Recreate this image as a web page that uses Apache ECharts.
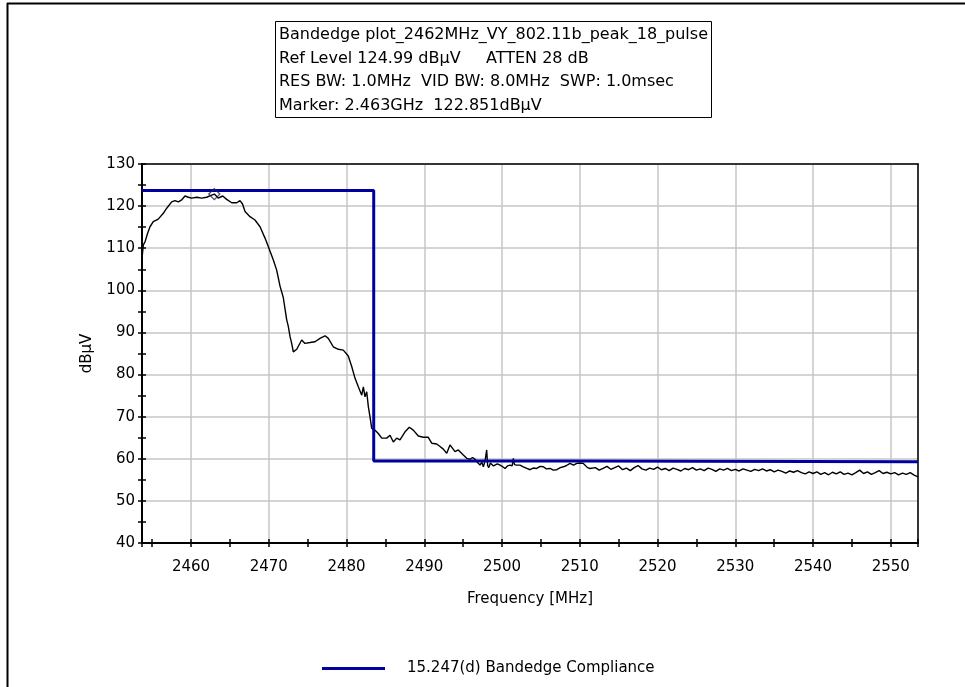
<!DOCTYPE html>
<html>
<head>
<meta charset="utf-8">
<title>Bandedge plot</title>
<script src="https://cdn.jsdelivr.net/npm/echarts@6/dist/echarts.min.js"></script>
<style>
  html, body { margin: 0; padding: 0; background: #fff; }
  #chart { width: 965px; height: 687px; }
</style>
</head>
<body>
<div id="chart"></div>
<script>
// Measured trace: frequency (MHz) and level (dBµV)
const traceFreq = [
  2453.70, 2453.87, 2454.09, 2454.41, 2454.73, 2455.15, 2455.79, 2456.44, 2456.88, 2457.52,
  2457.94, 2458.37, 2458.81, 2459.23, 2459.66, 2460.09, 2460.74, 2461.38, 2462.02, 2462.66,
  2463.00, 2463.51, 2464.08, 2464.59, 2465.24, 2465.88, 2466.30, 2466.63, 2466.95, 2467.59,
  2468.23, 2468.88, 2469.52, 2469.94, 2470.59, 2471.02, 2471.45, 2471.87, 2472.31, 2472.51,
  2472.74, 2472.95, 2473.16, 2473.60, 2474.24, 2474.66, 2475.31, 2475.95, 2476.59, 2477.24,
  2477.66, 2478.30, 2478.95, 2479.59, 2480.23, 2480.67, 2481.10, 2481.52, 2481.96, 2482.17,
  2482.38, 2482.60, 2482.81, 2483.02, 2483.24, 2483.67, 2484.09, 2484.53, 2485.17, 2485.60,
  2486.02, 2486.46, 2486.88, 2487.53, 2488.08, 2488.59, 2489.24, 2489.88, 2490.52, 2490.96,
  2491.60, 2492.03, 2492.45, 2492.89, 2493.31, 2493.53, 2493.96, 2494.38, 2495.02, 2495.46,
  2495.89, 2496.20, 2496.53, 2496.92, 2497.17, 2497.40, 2497.60, 2497.82, 2498.03, 2498.15,
  2498.30, 2498.50, 2498.68, 2498.90, 2499.10, 2499.40, 2499.75, 2500.10, 2500.39, 2500.70,
  2501.03, 2501.30, 2501.46, 2501.60, 2501.89, 2502.32, 2502.74, 2503.20, 2503.60, 2504.00,
  2504.46, 2504.90, 2505.32, 2505.70, 2506.18, 2506.60, 2507.04, 2507.50, 2507.89, 2508.30,
  2508.75, 2509.20, 2509.61, 2510.03, 2510.46, 2510.68, 2511.00, 2511.32,
  2512.0, 2512.5, 2513.0, 2513.5, 2514.0, 2514.5, 2515.0, 2515.5, 2516.0, 2516.5,
  2517.0, 2517.5, 2518.0, 2518.5, 2519.0, 2519.5, 2520.0, 2520.5, 2521.0, 2521.5,
  2522.0, 2522.5, 2523.0, 2523.5, 2524.0, 2524.5, 2525.0, 2525.5, 2526.0, 2526.5,
  2527.0, 2527.5, 2528.0, 2528.5, 2529.0, 2529.5, 2530.0, 2530.5, 2531.0, 2531.5,
  2532.0, 2532.5, 2533.0, 2533.5, 2534.0, 2534.5, 2535.0, 2535.5, 2536.0, 2536.5,
  2537.0, 2537.5, 2538.0, 2538.5, 2539.0, 2539.5, 2540.0, 2540.5, 2541.0, 2541.5,
  2542.0, 2542.5, 2543.0, 2543.5, 2544.0, 2544.5, 2545.0, 2545.5, 2546.0, 2546.5,
  2547.0, 2547.5, 2548.0, 2548.5, 2549.0, 2549.5, 2550.0, 2550.5, 2551.0, 2551.5,
  2552.0, 2552.5, 2553.0, 2553.5
];
const traceLevel = [
  107.5, 110.8, 111.5, 113.5, 115.1, 116.3, 116.9, 118.3, 119.5, 121.0,
  121.3, 121.0, 121.5, 122.4, 122.1, 121.9, 122.1, 121.9, 122.1, 122.6,
  122.85, 121.9, 122.4, 121.6, 120.8, 120.8, 121.3, 120.5, 118.7, 117.5,
  116.7, 115.1, 112.4, 110.4, 107.2, 104.8, 101.0, 98.3, 93.0, 91.5,
  89.0, 87.4, 85.4, 86.0, 88.2, 87.4, 87.6, 87.8, 88.6, 89.2,
  88.6, 86.6, 86.0, 85.8, 84.4, 81.9, 79.1, 77.1, 75.1, 77.1,
  74.7, 75.9, 72.4, 70.0, 67.2, 66.8, 66.0, 64.9, 64.9, 65.6,
  64.0, 64.9, 64.5, 66.4, 67.5, 66.8, 65.4, 65.1, 65.1, 63.7,
  63.5, 62.9, 62.3, 61.3, 63.3, 63.7, 61.7, 62.1, 60.9, 60.1,
  59.9, 60.3, 59.9, 59.0, 58.5, 59.2, 58.1, 59.5, 62.1, 58.4,
  57.9, 59.0, 59.3, 58.3, 58.1, 58.8, 58.5, 58.1, 57.7, 58.3,
  58.5, 58.3, 60.1, 58.6, 58.5, 58.5, 58.1, 57.7, 57.4, 57.8,
  57.7, 58.2, 58.1, 57.6, 57.7, 57.3, 57.4, 57.9, 58.1, 58.4,
  58.9, 58.5, 58.9, 59.0, 58.9, 58.5, 57.9, 57.7,
  57.9, 57.3, 57.7, 58.2, 57.5, 57.9, 58.3, 57.4, 57.8, 57.2,
  57.9, 58.4, 57.6, 57.3, 57.8, 57.5, 58.0, 57.4, 57.7, 57.2,
  57.8, 57.5, 57.1, 57.7, 57.4, 57.9, 57.3, 57.6, 57.2, 57.8,
  57.5, 57.0, 57.6, 57.3, 57.7, 57.2, 57.5, 57.1, 57.6, 57.3,
  57.0, 57.5, 57.2, 57.6, 57.1, 57.4, 56.9, 57.3, 57.0, 56.6,
  57.1, 56.8, 57.2, 56.7, 56.4, 56.9, 56.5, 56.9, 56.3, 56.7,
  56.2, 56.8, 56.4, 56.9, 56.3, 56.6, 56.2, 56.7, 57.3, 56.5,
  56.9, 56.3, 56.7, 57.2, 56.5, 56.8, 56.4, 56.7, 56.2, 56.6,
  56.3, 56.7, 56.1, 55.7
];

// 15.247(d) limit line (step shape)
const limitFreq  = [2453.7, 2483.5, 2483.5, 2510.6, 2510.6, 2553.5];
const limitLevel = [123.7, 123.7, 59.5, 59.5, 59.3, 59.3];

// Marker reading
const markerFreq = [2463.0];
const markerLevel = [122.851];

// Axis ranges and ticks
const freqMin = 2453.7, freqMax = 2553.5;
const levelMin = 40, levelMax = 130;
const majorStepFreq = 10, minorStepFreq = 5;
const majorStepLevel = 10, minorStepLevel = 5;

const infoLines = [
  'Bandedge plot_2462MHz_VY_802.11b_peak_18_pulse',
  'Ref Level 124.99 dBµV     ATTEN 28 dB',
  'RES BW: 1.0MHz  VID BW: 8.0MHz  SWP: 1.0msec',
  'Marker: 2.463GHz  122.851dBµV'
];
const limitName = '15.247(d) Bandedge Compliance';

const FONT = 'DejaVu Sans';
const zip = (a, b) => a.map((v, i) => [v, b[i]]);

const chart = echarts.init(document.getElementById('chart'), null, { renderer: 'canvas' });

const tickAxisX = (offset) => ({
  type: 'value', gridIndex: 0, min: freqMin, max: freqMax,
  minInterval: minorStepFreq, maxInterval: minorStepFreq,
  position: 'bottom', offset: offset,
  axisLine: { show: false }, axisLabel: { show: false }, splitLine: { show: false },
  axisTick: { show: true, length: 8, lineStyle: { color: '#000', width: 1.5 } }
});
const tickAxisY = (offset) => ({
  type: 'value', gridIndex: 0, min: levelMin, max: levelMax, interval: minorStepLevel,
  position: 'left', offset: offset,
  axisLine: { show: false }, axisLabel: { show: false }, splitLine: { show: false },
  axisTick: { show: true, length: 8, lineStyle: { color: '#000', width: 1.5 } }
});
// plain frame edges on the opposite sides of the plot
const edgeAxis = (pos, min, max) => ({
  type: 'value', gridIndex: 0, min: min, max: max, position: pos,
  axisLine: { show: true, onZero: false, lineStyle: { color: '#000', width: 1.5 } },
  axisTick: { show: false }, axisLabel: { show: false }, splitLine: { show: false }
});

chart.setOption({
  animation: false,
  backgroundColor: '#fff',
  textStyle: { fontFamily: FONT },
  grid: { left: 142, top: 164, right: 47, bottom: 144 },
  legend: {
    data: [limitName],
    left: 317, top: 656,
    itemWidth: 63, itemHeight: 14, itemGap: 10,
    textStyle: { fontFamily: FONT, fontSize: 15, color: '#000', padding: [0, 0, 0, 17] },
    icon: 'path://M0,6 L63,6 L63,9 L0,9 Z'
  },
  xAxis: [
    {
      type: 'value', min: freqMin, max: freqMax,
      minInterval: majorStepFreq, maxInterval: majorStepFreq,
      name: 'Frequency [MHz]', nameLocation: 'middle', nameGap: 49,
      nameTextStyle: { fontFamily: FONT, fontSize: 15, color: '#000' },
      axisLine: { show: true, onZero: false, lineStyle: { color: '#000', width: 2 } },
      axisTick: { show: false },
      axisLabel: { color: '#000', fontFamily: FONT, fontSize: 15, margin: 17,
                   showMinLabel: false, showMaxLabel: false,
                   formatter: (v) => String(Math.round(v)) },
      splitLine: { show: true, lineStyle: { color: '#c6c6c6', width: 1.5 } }
    },
    tickAxisX(-4),
    edgeAxis('top', freqMin, freqMax)
  ],
  yAxis: [
    {
      type: 'value', min: levelMin, max: levelMax, interval: majorStepLevel,
      name: 'dBµV', nameLocation: 'middle', nameGap: 47, nameRotate: 90,
      nameTextStyle: { fontFamily: FONT, fontSize: 15, color: '#000' },
      axisLine: { show: true, onZero: false, lineStyle: { color: '#000', width: 2 } },
      axisTick: { show: false },
      axisLabel: { color: '#000', fontFamily: FONT, fontSize: 15, margin: 7 },
      splitLine: { show: true, lineStyle: { color: '#c6c6c6', width: 1.5 } }
    },
    tickAxisY(-4),
    edgeAxis('right', levelMin, levelMax)
  ],
  series: [
    {
      name: 'Trace', type: 'line', xAxisIndex: 0, yAxisIndex: 0,
      data: zip(traceFreq, traceLevel),
      showSymbol: false, symbol: 'none',
      lineStyle: { color: '#000', width: 1.4 },
      z: 3
    },
    {
      name: limitName, type: 'line', xAxisIndex: 0, yAxisIndex: 0,
      data: zip(limitFreq, limitLevel),
      showSymbol: false, symbol: 'none',
      itemStyle: { color: '#0000a0' },
      lineStyle: { color: '#0000a0', width: 3 },
      z: 4
    },
    {
      name: 'Marker', type: 'scatter', xAxisIndex: 0, yAxisIndex: 0,
      data: zip(markerFreq, markerLevel),
      symbol: 'diamond', symbolSize: [11, 11],
      itemStyle: { color: 'rgba(0,0,0,0)', borderColor: '#202050', borderWidth: 1.3 },
      z: 5
    }
  ],
  graphic: [
    // page frame
    { type: 'line', shape: { x1: 7, y1: 3.5, x2: 965, y2: 3.5 }, style: { stroke: '#000', lineWidth: 2 } },
    { type: 'line', shape: { x1: 7.5, y1: 3, x2: 7.5, y2: 687 }, style: { stroke: '#000', lineWidth: 2 } },
    // info box
    { type: 'rect', shape: { x: 275.5, y: 21.5, width: 436, height: 96 },
      style: { fill: '#fff', stroke: '#000', lineWidth: 1 }, z: 10 },
    { type: 'text', x: 279, y: 23.5, z: 11,
      style: { text: infoLines.join('\n'), font: '16px "' + FONT + '"', fill: '#000',
               lineHeight: 23.5, verticalAlign: 'top', align: 'left' } }
  ]
});
</script>
</body>
</html>
